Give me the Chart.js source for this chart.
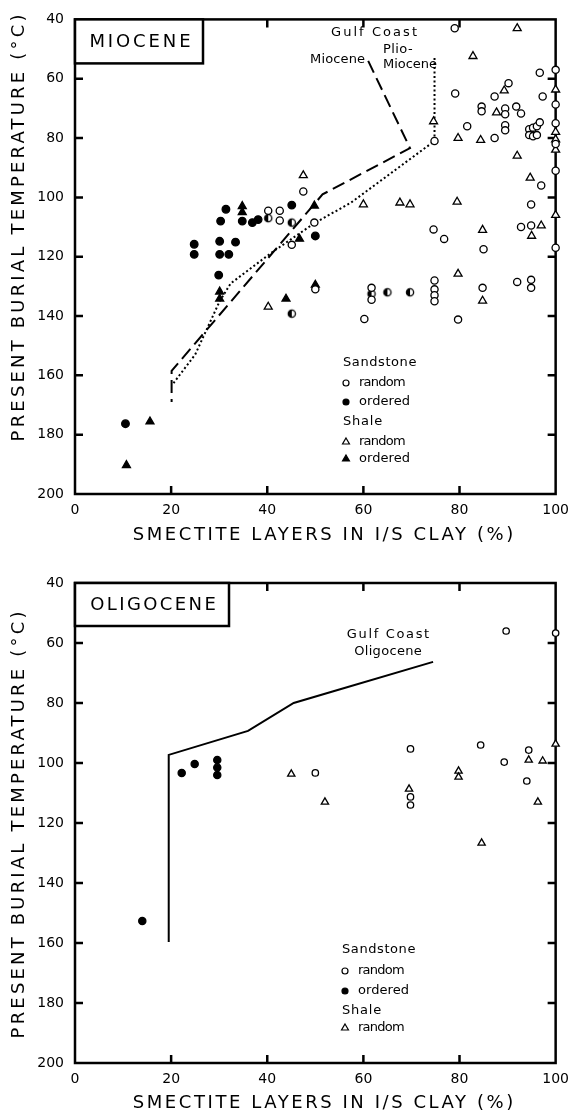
<!DOCTYPE html>
<html><head><meta charset="utf-8">
<script src="https://cdn.jsdelivr.net/npm/chart.js@4.4.0/dist/chart.umd.min.js"></script>
<style>
html,body{margin:0;padding:0;background:#fff;}
#wrap{position:relative;width:577px;height:1113px;background:#fff;}
#c1{position:absolute;left:0;top:0;}
#c2{position:absolute;left:0;top:560px;}
</style></head><body>
<div id="wrap"><canvas id="c1" width="577" height="560"></canvas><canvas id="c2" width="577" height="553"></canvas></div>
<script>
// ---- tick values ----
const xTicks = [0, 20, 40, 60, 80, 100];
const yTicks = [40, 60, 80, 100, 120, 140, 160, 180, 200];

// ---- MIOCENE panel: [smectite %, temperature °C] ----
const mioSandRandom = [[79,43],[96.7,58],[100,57],[90.2,61.5],[87.3,66],[79.1,65],[97.3,66],[100,68.7],[84.6,69.4],[84.6,71],[89.5,70],[89.5,72],[91.8,69.4],[92.8,71.7],[89.5,75.7],[89.5,77.4],[94.5,77],[95.3,76.5],[96.1,76],[96.7,74.7],[94.5,79],[95.3,79.4],[96.1,79],[100,75],[100,82],[81.6,76],[87.3,80],[74.8,81],[100,91],[97,96],[47.5,98],[94.9,102.4],[49.8,108.5],[74.6,110.8],[76.8,114],[85,117.5],[92.8,110],[94.9,109.5],[100,117],[61.7,130.5],[61.7,134.5],[74.8,128],[74.8,131],[74.8,133],[74.8,135],[84.8,130.5],[92,128.5],[94.9,127.8],[94.9,130.5],[60.2,141],[79.7,141.2],[42.6,104.5],[42.6,107.8],[45.1,116],[40.2,104.5],[50,131]];
const mioSandOrdered = [[31.4,104],[30.3,108],[34.8,108],[36.9,108.5],[38.1,107.5],[45.1,102.6],[24.8,115.8],[24.8,119.2],[30.1,114.8],[30.1,119.2],[33.4,115.1],[32,119.2],[29.9,126.2],[50,113],[10.5,176.3]];
const mioSandPartial = [[40.2,107],[45.1,108.5],[45.1,139.2],[61.7,132.5],[65,132],[69.7,132]];
const mioShaleRandom = [[92,43],[82.8,52.4],[89.3,64],[100,63.7],[87.7,71.4],[74.6,74.4],[79.7,80],[84.4,80.7],[100,78],[100,80.5],[100,84],[92,86],[94.7,93.4],[47.5,92.6],[60,102.4],[67.6,101.8],[69.7,102.4],[79.5,101.5],[100,106],[84.8,111],[97,109.5],[95,113],[79.7,125.8],[84.8,134.9],[40.2,136.9]];
const mioShaleOrdered = [[34.8,103],[34.8,105],[49.8,102.8],[46.7,114],[30.1,131.8],[30.1,134.2],[43.9,134.2],[50,129.5],[15.6,175.6],[10.7,190.3]];
const gulfCoastMiocene = [[61,54],[69.7,83.4],[51.5,99],[20.1,158.5],[20.1,169]];
const gulfCoastPlioMiocene = [[74.8,53],[74.8,81],[57.4,101.8],[50,108.5],[41,118.5],[32.4,129],[30.1,135],[25,153],[20.5,162.6]];

// ---- OLIGOCENE panel ----
const oliSandRandom = [[89.7,56],[100,56.7],[50,103.3],[69.8,95.3],[69.8,111.3],[69.8,114],[84.4,94],[89.3,99.7],[94.4,95.7],[94,106]];
const oliSandOrdered = [[22.2,103.3],[24.9,100.3],[29.6,99],[29.6,101.5],[29.6,104],[14,152.7]];
const oliShaleRandom = [[45,103.7],[52,113],[69.5,108.7],[79.8,102.7],[79.8,104.7],[84.6,126.7],[94.4,99],[97.3,99.3],[96.3,113],[100,93.7]];
const gulfCoastOligocene = [[19.5,159.7],[19.5,97.3],[36,89.3],[45.5,80],[55,75.5],[74.5,66.3]];

const FONT = '"DejaVu Sans", "Liberation Sans", sans-serif';

function pts(a){ return a.map(p => ({x:p[0], y:p[1]})); }

function halfCircle(r){
  const s = Math.ceil(2*r + 4);
  const c = document.createElement('canvas'); c.width = s; c.height = s;
  const g = c.getContext('2d'); const m = s/2;
  g.fillStyle = '#fff'; g.beginPath(); g.arc(m,m,r,0,2*Math.PI); g.fill();
  g.fillStyle = '#000'; g.beginPath(); g.moveTo(m,m); g.arc(m,m,r,Math.PI/2,3*Math.PI/2); g.closePath(); g.fill();
  g.strokeStyle = '#000'; g.lineWidth = 1.3; g.beginPath(); g.arc(m,m,r,0,2*Math.PI); g.stroke();
  return c;
}

function scatterSet(label, data, style, filled, r){
  return {type:'scatter', label, data:pts(data), pointStyle:style, pointRadius:r, pointHoverRadius:r,
    pointBorderColor:'#000', pointBackgroundColor: filled ? '#000' : '#fff', pointBorderWidth:1.3,
    clip:false, showLine:false, order:1};
}
function lineSet(label, data, dash, w){
  return {type:'line', label, data:pts(data), borderColor:'#000', borderWidth:w, borderDash:dash,
    pointRadius:0, fill:false, tension:0, clip:false, order:2, borderCapStyle:'butt'};
}

function spacedText(ctx, text, x, y, font, targetW, align){
  ctx.font = font;
  ctx.letterSpacing = '0px';
  const w = ctx.measureText(text).width;
  const n = [...text].length;
  const ls = targetW ? (targetW - w) / n : 0;
  ctx.letterSpacing = ls + 'px';
  ctx.textBaseline = 'middle';
  ctx.fillStyle = '#000';
  let tw = w + ls*n;
  let sx = x;
  if (align === 'center') sx = x - tw/2 + ls/2;
  else if (align === 'right') sx = x - tw + ls;
  ctx.textAlign = 'left';
  ctx.fillText(text, sx, y);
  ctx.letterSpacing = '0px';
}

function marker(ctx, style, filled, r, x, y){
  ctx.save();
  ctx.fillStyle = filled ? '#000' : '#fff';
  ctx.strokeStyle = '#000';
  ctx.lineWidth = 1.2;
  if (Chart.helpers && Chart.helpers.drawPoint) {
    Chart.helpers.drawPoint(ctx, {pointStyle:style, radius:r, borderWidth:1.2, rotation:0}, x, y);
  } else {
    ctx.beginPath();
    if (style === 'circle') ctx.arc(x,y,r,0,2*Math.PI);
    else { ctx.moveTo(x, y-r); ctx.lineTo(x+r*0.866, y+r/2); ctx.lineTo(x-r*0.866, y+r/2); ctx.closePath(); }
    ctx.fill(); ctx.stroke();
  }
  ctx.restore();
}

const decoPlugin = {
  id: 'deco',
  beforeDatasetsDraw(chart, args, opts){
    const ctx = chart.ctx, a = chart.chartArea;
    const xs = chart.scales.x, ys = chart.scales.y;
    ctx.save();
    ctx.strokeStyle = '#000'; ctx.lineWidth = 2.5; ctx.lineCap = 'square';
    ctx.strokeRect(a.left, a.top, a.right - a.left, a.bottom - a.top);
    const tl = 8;
    ctx.beginPath();
    xTicks.forEach(v => {
      if (v === xTicks[0] || v === xTicks[xTicks.length-1]) return;
      const px = xs.getPixelForValue(v);
      ctx.moveTo(px, a.bottom); ctx.lineTo(px, a.bottom - tl);
      ctx.moveTo(px, a.top); ctx.lineTo(px, a.top + tl);
    });
    yTicks.forEach(v => {
      if (v === yTicks[0] || v === yTicks[yTicks.length-1]) return;
      const py = ys.getPixelForValue(v);
      ctx.moveTo(a.left, py); ctx.lineTo(a.left + tl, py);
      ctx.moveTo(a.right, py); ctx.lineTo(a.right - tl, py);
    });
    ctx.lineCap = 'butt';
    ctx.stroke();
    ctx.restore();
  },
  afterDraw(chart, args, opts){
    const ctx = chart.ctx, a = chart.chartArea;
    ctx.save();
    // panel name box
    const b = opts.box;
    ctx.fillStyle = '#fff';
    ctx.fillRect(a.left, a.top, b.w, b.h);
    ctx.strokeStyle = '#000'; ctx.lineWidth = 2.5;
    ctx.strokeRect(a.left, a.top, b.w, b.h);
    spacedText(ctx, b.label, a.left + b.w/2 + 1, a.top + b.h/2 + 1, '18px ' + FONT, b.tw, 'center');
    // curve labels
    opts.notes.forEach(n => spacedText(ctx, n.t, n.x, n.y, '13px ' + FONT, n.w, n.align));
    // legend
    const L = opts.legend;
    L.rows.forEach(row => {
      if (row.style) {
        marker(ctx, row.style, row.filled, row.style === 'circle' ? 3 : 4, L.x + 3, row.y);
        spacedText(ctx, row.t, L.x + 16, row.y, '13px ' + FONT, row.w, 'left');
      } else {
        spacedText(ctx, row.t, L.x, row.y, '13px ' + FONT, row.w, 'left');
      }
    });
    // axis titles
    const xt = opts.xTitle;
    spacedText(ctx, 'SMECTITE LAYERS IN I/S CLAY (%)', xt.x, xt.y, '18px ' + FONT, 383, 'center');
    const yt = opts.yTitle;
    ctx.save();
    ctx.translate(yt.x, yt.y);
    ctx.rotate(-Math.PI/2);
    spacedText(ctx, 'PRESENT BURIAL TEMPERATURE (°C)', 0, 0, '18px ' + FONT, 430, 'center');
    ctx.restore();
    ctx.restore();
  }
};

function makeChart(canvas, cfg){
  return new Chart(canvas, {
    type: 'scatter',
    data: {datasets: cfg.datasets},
    options: {
      responsive: false, animation: false, devicePixelRatio: 1,
      layout: {padding: {top: cfg.padTop, right: cfg.padRight, left: 0, bottom: 0}},
      plugins: {legend: {display: false}, tooltip: {enabled: false}, deco: cfg.deco},
      scales: {
        x: {type: 'linear', min: 0, max: 100, position: 'bottom',
          afterBuildTicks: s => { s.ticks = xTicks.map(v => ({value: v})); },
          afterFit: s => { s.height = cfg.xAxisH; },
          ticks: {color: '#000', font: {family: FONT, size: 14}, padding: 8, maxRotation: 0, autoSkip: false},
          grid: {display: false, drawTicks: false}, border: {display: false}},
        y: {type: 'linear', min: 40, max: 200, reverse: true, position: 'left',
          afterBuildTicks: s => { s.ticks = yTicks.map(v => ({value: v})); },
          afterFit: s => { s.width = 75; },
          ticks: {color: '#000', font: {family: FONT, size: 14}, padding: 11, autoSkip: false},
          grid: {display: false, drawTicks: false}, border: {display: false}}
      }
    },
    plugins: [decoPlugin]
  });
}

makeChart(document.getElementById('c1'), {
  padTop: 15, padRight: 14, xAxisH: 66,
  datasets: [
    lineSet('Gulf Coast Miocene', gulfCoastMiocene, [13, 6], 2),
    lineSet('Gulf Coast Plio-Miocene', gulfCoastPlioMiocene, [2, 2.5], 2),
    scatterSet('Sandstone random', mioSandRandom, 'circle', false, 3.6),
    scatterSet('Sandstone ordered', mioSandOrdered, 'circle', true, 3.8),
    scatterSet('Sandstone partly ordered', mioSandPartial, halfCircle(3.6), false, 3.6),
    scatterSet('Shale random', mioShaleRandom, 'triangle', false, 4.6),
    scatterSet('Shale ordered', mioShaleOrdered, 'triangle', true, 4.6)
  ],
  deco: {
    box: {label: 'MIOCENE', w: 128, h: 44, tw: 104},
    notes: [
      {t: 'Gulf Coast', x: 374, y: 33, w: 88, align: 'center'},
      {t: 'Miocene', x: 365, y: 60, w: 55, align: 'right'},
      {t: 'Plio-', x: 383, y: 50, w: 30, align: 'left'},
      {t: 'Miocene', x: 383, y: 65, w: 54, align: 'left'}
    ],
    legend: {x: 343, rows: [
      {t: 'Sandstone', y: 363, w: 74},
      {t: 'random', y: 383, style: 'circle', filled: false, w: 46},
      {t: 'ordered', y: 402, style: 'circle', filled: true, w: 51},
      {t: 'Shale', y: 422, w: 40},
      {t: 'random', y: 442, style: 'triangle', filled: false, w: 46},
      {t: 'ordered', y: 459, style: 'triangle', filled: true, w: 51}
    ]},
    xTitle: {x: 323, y: 535},
    yTitle: {x: 19, y: 228}
  }
});

makeChart(document.getElementById('c2'), {
  padTop: 23, padRight: 16, xAxisH: 50,
  datasets: [
    lineSet('Gulf Coast Oligocene', gulfCoastOligocene, [], 2),
    scatterSet('Sandstone random', oliSandRandom, 'circle', false, 3.2),
    scatterSet('Sandstone ordered', oliSandOrdered, 'circle', true, 3.6),
    scatterSet('Shale random', oliShaleRandom, 'triangle', false, 4.2)
  ],
  deco: {
    box: {label: 'OLIGOCENE', w: 154, h: 43, tw: 128},
    notes: [
      {t: 'Gulf Coast', x: 388, y: 75, w: 84, align: 'center'},
      {t: 'Oligocene', x: 388, y: 92, w: 68, align: 'center'}
    ],
    legend: {x: 342, rows: [
      {t: 'Sandstone', y: 390, w: 74},
      {t: 'random', y: 411, style: 'circle', filled: false, w: 46},
      {t: 'ordered', y: 431, style: 'circle', filled: true, w: 51},
      {t: 'Shale', y: 451, w: 40},
      {t: 'random', y: 468, style: 'triangle', filled: false, w: 46}
    ]},
    xTitle: {x: 323, y: 543},
    yTitle: {x: 19, y: 265}
  }
});
</script>
</body></html>
